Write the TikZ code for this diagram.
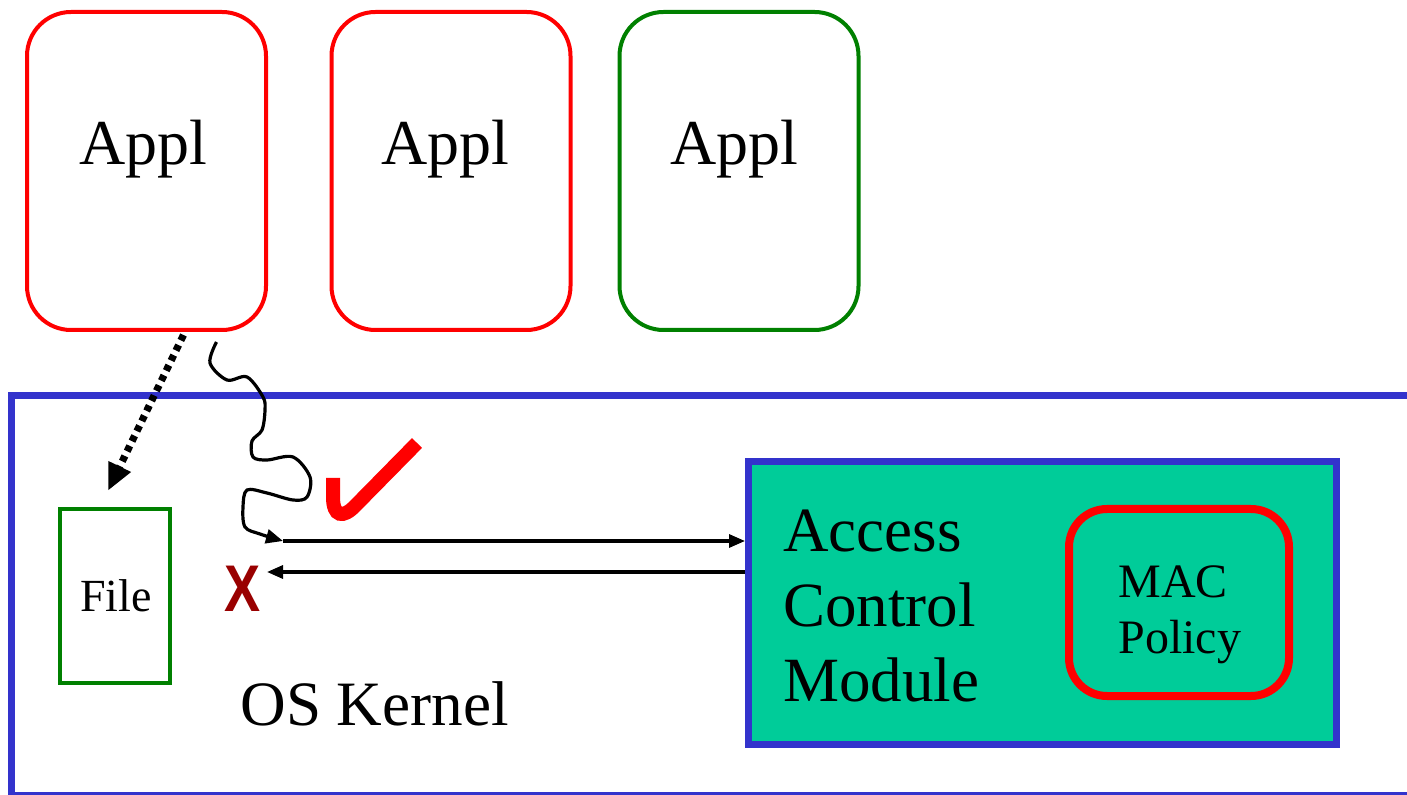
\documentclass[tikz,border=0pt]{standalone}
\usepackage{fontspec}
\setmainfont{Liberation Serif}
\newfontfamily\xsans{Liberation Sans}
\usetikzlibrary{arrows.meta,calc}
\definecolor{appred}{HTML}{FF0000}
\definecolor{appgreen}{HTML}{008000}
\definecolor{kernblue}{HTML}{3333CC}
\definecolor{acmfill}{HTML}{00CC99}
\definecolor{denyred}{HTML}{990000}

\begin{document}
\begin{tikzpicture}[x=0.5pt,y=-0.5pt,
  appbox/.style={draw, rounded corners=22pt, line width=2pt, inner sep=0pt,
    minimum width=119.5pt, minimum height=159pt},
  apptext/.style={font=\fontsize{32}{38}\selectfont, anchor=base, inner sep=0pt},
  kern/.style={draw=kernblue, line width=3.5pt},
  filebox/.style={draw=appgreen, line width=2.2pt, inner sep=0pt,
    minimum width=55pt, minimum height=87pt},
  acmbox/.style={draw=kernblue, fill=acmfill, line width=3.5pt, inner sep=0pt,
    minimum width=294pt, minimum height=141.5pt},
  macbox/.style={draw=appred, rounded corners=19pt, line width=4pt, inner sep=0pt,
    minimum width=110pt, minimum height=93.5pt},
  msg/.style={line width=1.6pt, -{Triangle[length=8pt,width=6.5pt]}},
]
\useasboundingbox (0,0) rectangle (1407,795);

% applications
\node[appbox, draw=appred]   (a1) at (146.5,171) {};
\node[appbox, draw=appred]   (a2) at (451,171) {};
\node[appbox, draw=appgreen] (a3) at (739,171) {};
\node[apptext] (t1) at (143,165) {Appl};
\node[apptext] (t2) at (445.5,165) {Appl};
\node[apptext] (t3) at (734.5,165) {Appl};

% kernel frame (open to the right)
\draw[kern] (1430,396) -| (11,795.5) -- (1430,795.5);
\node[font=\fontsize{31.6}{37}\selectfont, anchor=base west, inner sep=0pt] (os) at (240,725) {OS Kernel};

% file
\node[filebox] (file) at (115,596) {};
\node[font=\fontsize{23}{27}\selectfont, anchor=base, inner sep=0pt] (ft) at (116,612) {File};

% access control module
\node[acmbox] (acm) at (1042.5,603) {};
\node[font=\fontsize{31.5}{37.5}\selectfont, align=left, anchor=north west, inner sep=0pt]
  (acmt) at (783,510) {Access\\Control\\Module};
\node[macbox] (mac) at (1179,602.5) {};
\node[font=\fontsize{24}{28}\selectfont, align=left, anchor=north west, inner sep=0pt]
  (mact) at (1118,565) {MAC\\Policy};

% direct (dotted) access to the file
\draw[line width=3.6pt, dash pattern=on 3pt off 2.6pt, -{Triangle[length=13.5pt,width=11.5pt]}]
  ($(a1.south)+(37,3)$) -- ($(file.north)+(-7,-16)$);

% system call path into the kernel
\coordinate (s0) at ($(a1.south)+(70,10)$);
\coordinate (req) at (283,541);
\draw[line width=1.6pt, -{Triangle[length=8.5pt,width=7pt]}]
  plot[smooth, tension=0.55] coordinates {(s0) (210,363) (227,380) (247,377) (263,397) (265,410)
  (262,430) (252,441) (253,457) (267,460) (293,457) (310,477) (307,497) (293,500)
  (267,493) (247,490) (243,507) (245,527) (260,534) (req)};

% request / reply
\draw[msg] (req) -- (req -| acm.west);
\coordinate (rep) at (267,572);
\draw[msg] (rep -| acm.west) -- (rep);

% outcome marks
\node[font=\xsans\bfseries\fontsize{33}{37}\selectfont, text=denyred, inner sep=0pt]
  (deny) at (243,589) {\scalebox{0.82}[1]{X}};
\draw[appred, line width=7pt]
  (333,478) -- (333,497) .. controls (333,517) and (343,519) .. (356,505) -- (417,443);
\end{tikzpicture}
\end{document}
